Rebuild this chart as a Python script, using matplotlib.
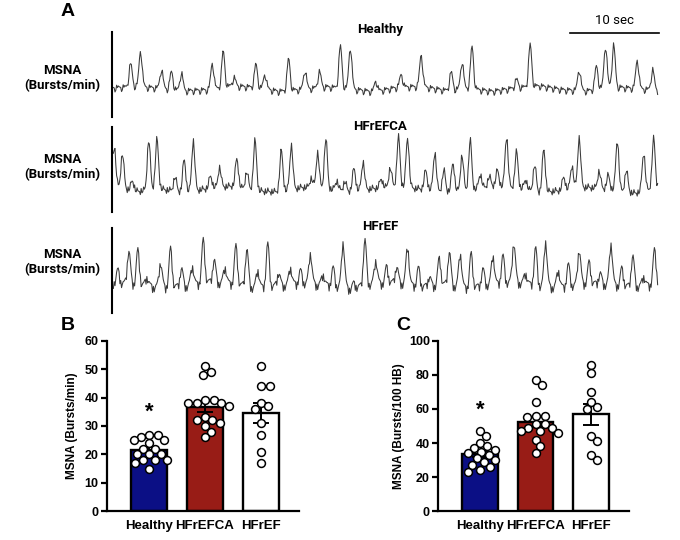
import matplotlib
matplotlib.use("Agg")
import matplotlib.pyplot as plt
import numpy as np

# ---- panel A: MSNA traces (burst time in s, relative burst height) ----
healthy_t = [1.9, 3.0, 5.3, 6.4, 7.5, 10.9, 12.1, 13.3, 15.7, 16.7, 19.3, 21.1, 22.7,
             25.0, 26.1, 28.9, 31.7, 33.9, 37.2, 38.4, 39.5, 44.4, 45.9, 51.3, 53.2,
             54.2, 55.1, 57.7, 59.4]
healthy_a = [0.55, 0.85, 0.45, 0.42, 0.42, 0.62, 0.85, 0.2, 0.55, 0.35, 0.75, 0.45, 0.38,
             1.0, 1.0, 0.25, 0.3, 0.75, 0.42, 0.65, 1.0, 0.2, 1.0, 0.5, 0.55,
             1.0, 1.0, 0.68, 0.48]

hfrefca_t = [0.1, 1.0, 2.1, 3.9, 4.8, 6.8, 7.8, 8.8, 10.7, 11.7, 13.6, 14.7, 15.6,
             18.5, 19.6, 21.8, 22.5, 23.4, 24.6, 25.5, 26.5, 27.5, 29.5, 30.5, 31.4,
             32.4, 34.4, 35.4, 36.4, 37.4, 38.4, 39.3, 40.4, 41.4, 42.3, 43.3, 44.4,
             45.4, 46.4, 47.4, 49.6, 50.5, 51.3, 53.5, 54.5, 55.5, 56.5, 58.4, 59.5]
hfrefca_a = [0.8, 0.69, 0.19, 1.0, 1.0, 0.28, 0.66, 1.0, 0.24, 0.39, 0.57, 0.34, 1.0,
             0.81, 0.88, 0.19, 0.71, 1.0, 0.18, 0.18, 0.45, 0.55, 0.18, 0.38, 0.99,
             0.99, 0.38, 0.76, 0.43, 0.57, 0.71, 1.0, 0.28, 0.2, 0.32, 1.0, 0.72,
             0.2, 0.53, 0.85, 0.26, 0.46, 1.0, 0.34, 0.28, 1.0, 0.43, 0.76, 1.0]

hfref_t = [0.5, 1.7, 2.7, 3.7, 5.2, 6.3, 7.5, 8.7, 9.9, 11.1, 12.3, 13.5, 14.7, 15.9,
           17.0, 18.2, 19.5, 20.6, 21.7, 23.1, 24.2, 25.3, 26.5, 27.7, 28.9, 30.1,
           31.2, 32.4, 33.6, 34.8, 35.9, 37.0, 38.2, 39.4, 40.7, 41.8, 42.9, 44.1,
           45.4, 46.5, 47.6, 49.0, 50.1, 51.3, 52.4, 53.6, 54.8, 56.0, 57.2, 58.4, 59.6]
hfref_a = [0.28, 0.74, 0.76, 0.2, 0.56, 0.84, 0.4, 0.42, 0.94, 0.5, 0.36, 0.84, 0.82, 0.4,
           0.94, 0.3, 0.38, 0.28, 0.68, 0.24, 0.4, 1.0, 0.1, 1.0, 0.52, 0.36,
           0.36, 0.84, 0.4, 0.22, 0.6, 0.74, 0.74, 0.74, 0.36, 0.64, 0.6, 0.88,
           0.24, 0.82, 1.0, 0.38, 0.48, 0.78, 0.46, 0.24, 0.91, 0.38, 0.68, 0.22, 0.76]

# baseline jitter texture (hand typed)
jitter = [0.3, -0.5, 0.8, -0.2, 0.1, -0.9, 0.6, 0.2, -0.4, 0.9, -0.7, 0.0, 0.5, -0.3,
          -0.8, 0.4, 0.7, -0.1, -0.6, 0.2, 1.0, -0.4, 0.3, -1.0, 0.1, 0.6, -0.2, -0.5,
          0.8, -0.9, 0.4, 0.0, -0.3, 0.7, -0.6, 0.2, 0.5, -0.8, 0.9, -0.1, -0.4, 0.3,
          0.6, -0.7, 0.1, -0.2, 0.8, -0.5, 0.0, 0.4, -0.9, 0.7, -0.3, 0.2, -0.6, 0.5]
# slower baseline drift texture (hand typed)
drift = [0.2, 0.5, 0.1, -0.4, -0.2, 0.6, 0.3, -0.5, -0.1, 0.4, 0.0, -0.6, 0.3, 0.5,
         -0.3, 0.1, -0.5, 0.2, 0.6, -0.2, -0.4, 0.4, 0.1, -0.3]

# ---- panels B and C ----
groups = ["Healthy", "HFrEFCA", "HFrEF"]
bar_colors = ["#0b0f85", "#981c16", "white"]

b_healthy = [27, 27, 26, 25, 25, 24, 22, 22, 20, 20, 20, 18, 18, 18, 17, 15]
b_hfrefca = [51, 49, 48, 39, 39, 38, 38, 38, 37, 33, 32, 32, 31, 30, 28, 26]
b_hfref = [51, 44, 44, 38, 37, 36, 31, 27, 21, 17]

c_healthy = [47, 44, 40, 38, 37, 36, 35, 34, 33, 31, 30, 29, 27, 26, 24, 23]
c_hfrefca = [77, 74, 64, 56, 56, 55, 51, 51, 49, 49, 47, 47, 46, 42, 38, 34]
c_hfref = [86, 81, 70, 64, 61, 60, 44, 41, 33, 30]

plt.rcParams['font.family'] = ['Liberation Sans', 'DejaVu Sans']
ROBOTO = ["Roboto", "DejaVu Sans"]

fig = plt.figure(figsize=(6.8, 5.4), dpi=100)
W, H = 680.0, 540.0


def trace(ax, times, amps, off):
    t = np.arange(0, 60.01, 0.09)
    y = np.zeros_like(t)
    for tb, a in zip(times, amps):
        y += a * np.exp(-0.5 * ((t - tb) / 0.17) ** 2)
    n = len(jitter)
    y += np.array([jitter[(i * 7 + off) % n] for i in range(len(t))]) * 0.1
    y += np.interp(t, np.linspace(0, 60, len(drift)), np.roll(drift, off)) * 0.12
    ax.plot(t, y, color="#3a3a3a", lw=0.75)
    ax.set_xlim(-0.15, 60.2)
    for s in ["top", "right", "bottom"]:
        ax.spines[s].set_visible(False)
    ax.spines["left"].set_linewidth(1.5)
    ax.set_xticks([])
    ax.set_yticks([])


traces = [
    (healthy_t, healthy_a, 31.7, 116.7, (-0.64, 1.38), "Healthy", 30, 78, 0),
    (hfrefca_t, hfrefca_a, 127.3, 211.7, (-0.43, 1.25), "HFrEFCA", 126, 167, 11),
    (hfref_t, hfref_a, 228.3, 313.3, (-0.58, 1.28), "HFrEF", 227, 262, 23),
]
trace_axes = []
for times, amps, top, bot, lim, title, ty, ly, off in traces:
    ax = fig.add_axes([112 / W, 1 - bot / H, 548 / W, (bot - top) / H])
    trace(ax, times, amps, off)
    ax.set_ylim(*lim)
    trace_axes.append(ax)
    fig.text(380 / W, 1 - ty / H, title, ha="center", va="center",
             fontsize=9.5, fontweight="bold", family=ROBOTO)
    fig.text(62 / W, 1 - ly / H, "MSNA\n(Bursts/min)", ha="center", va="center",
             fontsize=9.5, fontweight="bold", family=ROBOTO, linespacing=1.25)

# scale bar
ax0 = trace_axes[0]
ax0.plot([50.3, 60.1], [0.985, 0.985], color="black", lw=1.2, clip_on=False,
         transform=ax0.get_xaxis_transform())
ax0.text(55.2, 1.13, "10 sec", ha="center", va="center", fontsize=9.5,
         family=ROBOTO, transform=ax0.get_xaxis_transform())

fig.text(68 / W, 1 - 12 / H, "A", ha="center", va="center", fontsize=14, fontweight="bold")
fig.text(68 / W, 1 - 325 / H, "B", ha="center", va="center", fontsize=14, fontweight="bold")
fig.text(403 / W, 1 - 325 / H, "C", ha="center", va="center", fontsize=14, fontweight="bold")


def swarm(ax, xc, vals, diam=7.8):
    # simple beeswarm in pixel space
    placed = []
    out = []
    for v in vals:
        px0, py = ax.transData.transform((xc, v))
        best = None
        for k in range(0, 40):
            for sgn in ([0] if k == 0 else [1, -1]):
                dx = sgn * k * 1.5
                ok = all((dx - qx) ** 2 + (py - qy) ** 2 >= diam ** 2 for qx, qy in placed)
                if ok:
                    best = dx
                    break
            if best is not None:
                break
        placed.append((best, py))
        out.append(ax.transData.inverted().transform((px0 + best, py))[0])
    return out


def bar_panel(rect, data, ymax, step, ylabel, star_y, lpad):
    ax = fig.add_axes(rect)
    ax.set_xlim(-0.75, 2.68)
    ax.set_ylim(0, ymax)
    x = np.arange(len(groups))
    means = [np.mean(d) for d in data]
    sems = [np.std(d, ddof=1) / np.sqrt(len(d)) for d in data]
    ax.bar(x, means, width=0.64, color=bar_colors, edgecolor="black", linewidth=1.7, zorder=1)
    ax.errorbar(x, means, yerr=sems, fmt="none", ecolor="black", elinewidth=1.4,
                capsize=6, capthick=1.4, zorder=2)
    for i, d in enumerate(data):
        xs = swarm(ax, x[i], d)
        ax.scatter(xs, d, s=32, facecolor="white", edgecolor="black", linewidths=1.1,
                   zorder=3, clip_on=False)
    ax.text(0, star_y, "*", ha="center", va="center", fontsize=16, fontweight="bold")
    ax.spines["top"].set_visible(False)
    ax.spines["right"].set_visible(False)
    ax.spines["left"].set_linewidth(1.6)
    ax.spines["bottom"].set_linewidth(1.6)
    ax.set_yticks(np.arange(0, ymax + 1, step))
    ax.set_xticks(x)
    ax.set_xticklabels(groups, fontsize=9.5, fontweight="bold")
    ax.tick_params(axis="x", length=0, pad=6)
    ax.tick_params(axis="y", length=4, width=1.6, labelsize=9, pad=2)
    for lab in ax.get_yticklabels():
        lab.set_fontweight("bold")
    ax.set_ylabel(ylabel, fontsize=8.5, fontweight="bold", labelpad=lpad)
    return ax


bar_panel([107 / W, 1 - 511.3 / H, 192 / W, 170.6 / H],
          [b_healthy, b_hfrefca, b_hfref], 60, 10, "MSNA (Bursts/min)", 35, 5)
bar_panel([438.3 / W, 1 - 511.3 / H, 190.7 / W, 170.6 / H],
          [c_healthy, c_hfrefca, c_hfref], 100, 20, "MSNA (Bursts/100 HB)", 59, 3)

fig.savefig("out.png", dpi=100)
